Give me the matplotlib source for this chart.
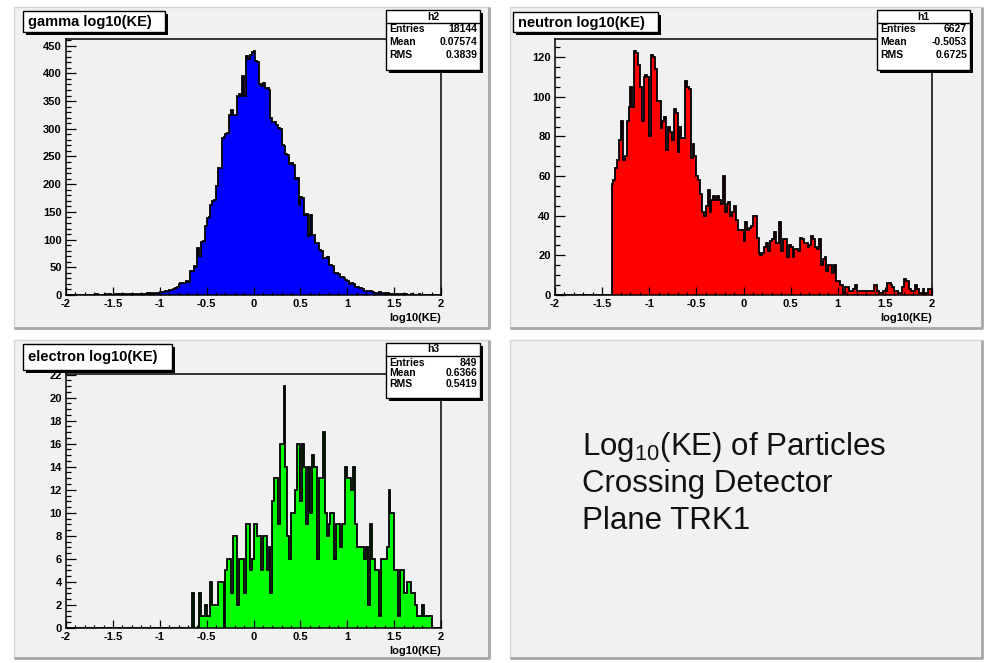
import numpy as np
import matplotlib.pyplot as plt
from matplotlib.patches import Rectangle
from matplotlib.ticker import MultipleLocator, FuncFormatter

plt.rcParams["font.family"] = ["Liberation Sans", "DejaVu Sans"]
plt.rcParams["axes.unicode_minus"] = False
plt.rcParams["mathtext.fontset"] = "custom"
plt.rcParams["mathtext.rm"] = "Liberation Sans"

W, H = 992, 663
PAD_GREY = "#f1f1f1"

# 200 bins of width 0.02 between -2 and 2
bin_edges = np.linspace(-2.0, 2.0, 201)

gamma_counts = [
    0, 0, 0, 0, 0, 0, 0, 0, 0, 0,
    0, 0, 0, 0, 0, 0, 1, 0, 0, 0,
    0, 1, 0, 1, 0, 0, 1, 1, 0, 1,
    1, 1, 0, 2, 1, 1, 2, 1, 1, 2,
    2, 1, 2, 3, 2, 3, 2, 3, 4, 3,
    5, 6, 5, 8, 7, 9, 9, 11, 12, 14,
    20, 21, 22, 22, 25, 24, 43, 44, 52, 50,
    85, 70, 96, 98, 124, 139, 141, 163, 169, 172,
    197, 230, 230, 284, 286, 290, 292, 324, 333, 325,
    324, 360, 362, 360, 396, 360, 432, 426, 434, 439,
    440, 423, 420, 381, 378, 383, 373, 373, 370, 320,
    312, 312, 306, 302, 300, 270, 268, 254, 252, 236,
    238, 234, 210, 212, 163, 177, 175, 145, 146, 106,
    145, 109, 108, 94, 94, 82, 80, 67, 66, 68,
    54, 55, 52, 39, 40, 38, 32, 33, 31, 27,
    26, 20, 21, 19, 15, 14, 12, 12, 11, 8,
    8, 7, 8, 6, 3, 4, 3, 6, 4, 3,
    2, 3, 1, 2, 1, 2, 1, 0, 1, 1,
    0, 1, 0, 0, 1, 0, 0, 0, 1, 0,
    0, 0, 0, 0, 0, 0, 0, 0, 0, 0,
]

neutron_counts = [
    0, 0, 0, 0, 0, 0, 0, 0, 0, 0,
    0, 0, 0, 0, 0, 0, 0, 0, 0, 0,
    0, 0, 0, 0, 0, 0, 0, 0, 0, 0,
    56, 58, 64, 68, 78, 88, 68, 70, 88, 95,
    105, 95, 123, 122, 116, 105, 88, 110, 111, 110,
    80, 121, 120, 114, 98, 98, 84, 88, 90, 73,
    85, 82, 78, 94, 92, 72, 85, 79, 79, 108,
    105, 104, 69, 76, 70, 60, 58, 51, 42, 40,
    45, 53, 42, 48, 50, 48, 50, 48, 46, 60,
    42, 46, 47, 40, 42, 45, 38, 33, 33, 33,
    27, 37, 33, 34, 35, 40, 40, 29, 21, 20,
    21, 24, 26, 22, 27, 28, 32, 26, 26, 37,
    22, 28, 28, 19, 25, 24, 19, 23, 23, 22,
    29, 28, 26, 26, 24, 25, 30, 28, 24, 23,
    28, 15, 18, 19, 12, 15, 15, 11, 15, 7,
    7, 5, 5, 1, 4, 4, 2, 2, 3, 5,
    2, 2, 2, 2, 2, 2, 2, 2, 2, 5,
    5, 2, 1, 1, 2, 2, 6, 6, 5, 4,
    2, 2, 1, 1, 4, 8, 7, 7, 3, 2,
    2, 5, 3, 1, 1, 3, 1, 1, 3, 3,
]

electron_counts = [
    0, 0, 0, 0, 0, 0, 0, 0, 0, 0,
    0, 0, 0, 0, 0, 0, 0, 0, 0, 0,
    0, 0, 0, 0, 0, 0, 0, 0, 0, 0,
    0, 0, 0, 0, 0, 0, 0, 0, 0, 0,
    0, 0, 0, 0, 0, 0, 0, 0, 0, 0,
    0, 0, 0, 0, 0, 0, 0, 0, 0, 0,
    0, 0, 0, 0, 0, 0, 0, 3, 0, 0,
    0, 3, 1, 1, 2, 1, 1, 4, 2, 2,
    2, 4, 4, 4, 0, 5, 6, 6, 3, 8,
    8, 2, 6, 6, 6, 3, 9, 9, 5, 6,
    9, 9, 8, 8, 5, 8, 8, 5, 7, 3,
    11, 13, 13, 9, 16, 16, 21, 14, 8, 6,
    10, 10, 12, 16, 16, 11, 16, 14, 9, 14,
    10, 15, 14, 14, 6, 13, 13, 17, 10, 8,
    9, 10, 10, 6, 9, 9, 7, 9, 9, 14,
    13, 13, 12, 14, 9, 7, 7, 7, 7, 6,
    7, 2, 9, 6, 6, 5, 5, 1, 6, 6,
    6, 7, 12, 10, 10, 5, 5, 1, 5, 5,
    3, 3, 4, 4, 3, 3, 2, 1, 1, 1,
    2, 1, 1, 1, 1, 0, 0, 0, 0, 0,
]

hist_names = ["h2", "h1", "h3"]
hist_titles = ["gamma log10(KE)", "neutron log10(KE)", "electron log10(KE)"]
hist_entries = ["18144", "6627", "849"]
hist_means = ["0.07574", "-0.5053", "0.6366"]
hist_rms = ["0.3839", "0.6725", "0.5419"]
fill_colors = ["#0000ff", "#ff0000", "#00ff00"]
x_label = "log10(KE)"
note_lines = [r"Log$_{10}$(KE) of Particles", "Crossing Detector", "Plane TRK1"]

# layout in pixels (x0, y0, x1, y1), y measured from the top
pads = [(14, 7, 489, 328), (510, 7, 982, 328), (14, 340, 489, 658), (510, 340, 982, 658)]
frames = [(66, 39, 441, 295), (555, 39, 932, 295), (66, 374, 441, 628)]
stat_boxes = [(386, 10, 480, 70), (877, 10, 970, 70), (386, 343, 480, 398)]
title_boxes = [(23, 11, 165, 32), (513, 12, 658, 32), (23, 344, 172, 370)]
y_steps = [(50, 10), (20, 5), (2, 0.5)]


def draw_pad(bg, x0, y0, x1, y1):
    bg.add_patch(Rectangle((x0, y0), x1 - x0, y1 - y0, facecolor=PAD_GREY,
                           edgecolor="#d4d4d4", lw=1.0))
    bg.plot([x1, x1, x0], [y0, y1, y1], color="#a8a8a8", lw=2.0,
            solid_capstyle="butt")


def draw_stats(fg, box, name, entries, mean, rms):
    x0, y0, x1, y1 = box
    fg.add_patch(Rectangle((x0 + 3, y0 + 3), x1 - x0, y1 - y0, facecolor="black", lw=0))
    fg.add_patch(Rectangle((x0, y0), x1 - x0, y1 - y0, facecolor="white",
                           edgecolor="black", lw=1.0))
    fg.plot([x0, x1], [y0 + 13, y0 + 13], color="black", lw=1.0)
    fg.text((x0 + x1) / 2, y0 + 6.5, name, ha="center", va="center",
            fontsize=7.5, fontweight="bold")
    rows = [("Entries", entries), ("Mean", mean), ("RMS", rms)]
    step = (y1 - y0 - 20) / 3.2
    for i, (key, val) in enumerate(rows):
        y = y0 + 19.5 + i * step
        fg.text(x0 + 3, y, key, ha="left", va="center", fontsize=7.5, fontweight="bold")
        fg.text(x1 - 3, y, val, ha="right", va="center", fontsize=7.5, fontweight="bold")


def draw_title(fg, box, title):
    x0, y0, x1, y1 = box
    fg.add_patch(Rectangle((x0 + 3, y0 + 3), x1 - x0, y1 - y0, facecolor="black", lw=0))
    fg.add_patch(Rectangle((x0, y0), x1 - x0, y1 - y0, facecolor="white",
                           edgecolor="black", lw=1.0))
    fg.text(x0 + 5, (y0 + y1) / 2 + 0.5, title, ha="left", va="center",
            fontsize=10.5, fontweight="bold")


def draw_hist(fig, frame, counts, color, ysteps):
    x0, y0, x1, y1 = frame
    ax = fig.add_axes([x0 / W, 1 - y1 / H, (x1 - x0) / W, (y1 - y0) / H], zorder=2)
    ax.set_facecolor(PAD_GREY)
    ax.stairs(counts, bin_edges, fill=True, color=color, lw=0)
    ax.stairs(counts, bin_edges, color="black", lw=1.3)
    ax.set_xlim(-2, 2)
    ax.set_ylim(0, max(counts) * 1.05)
    ax.xaxis.set_major_locator(MultipleLocator(0.5))
    ax.xaxis.set_minor_locator(MultipleLocator(0.1))
    ax.yaxis.set_major_locator(MultipleLocator(ysteps[0]))
    ax.yaxis.set_minor_locator(MultipleLocator(ysteps[1]))
    ax.xaxis.set_major_formatter(FuncFormatter(lambda v, p: "%g" % v))
    ax.yaxis.set_major_formatter(FuncFormatter(lambda v, p: "%g" % v))
    ax.tick_params(which="both", direction="in", top=False, right=False,
                   labelsize=8, width=0.9, color="black")
    ax.tick_params(axis="y", which="major", length=7.5, pad=3)
    ax.tick_params(axis="y", which="minor", length=3.5)
    ax.tick_params(axis="x", which="major", length=5.5, pad=3)
    ax.tick_params(axis="x", which="minor", length=2.5)
    for lab in ax.get_xticklabels() + ax.get_yticklabels():
        lab.set_fontweight("bold")
    for sp in ax.spines.values():
        sp.set_linewidth(1.1)
    return ax


fig = plt.figure(figsize=(W / 100, H / 100), dpi=100)
fig.patch.set_facecolor("white")

bg = fig.add_axes([0, 0, 1, 1], zorder=0)
bg.set_xlim(0, W)
bg.set_ylim(H, 0)
bg.axis("off")

fg = fig.add_axes([0, 0, 1, 1], zorder=5)
fg.set_xlim(0, W)
fg.set_ylim(H, 0)
fg.axis("off")

for p in pads:
    draw_pad(bg, *p)

all_counts = [gamma_counts, neutron_counts, electron_counts]
for i in range(3):
    draw_hist(fig, frames[i], all_counts[i], fill_colors[i], y_steps[i])
    draw_title(fg, title_boxes[i], hist_titles[i])
    draw_stats(fg, stat_boxes[i], hist_names[i], hist_entries[i], hist_means[i], hist_rms[i])
    fx1, fy1 = frames[i][2], frames[i][3]
    fg.text(fx1, fy1 + 23, x_label, ha="right", va="center", fontsize=8,
            fontweight="bold")

for i, line in enumerate(note_lines):
    fg.text(582, 447 + i * 37, line, ha="left", va="center", fontsize=22.5,
            color="#111111")

fig.savefig("out.png", dpi=100)
